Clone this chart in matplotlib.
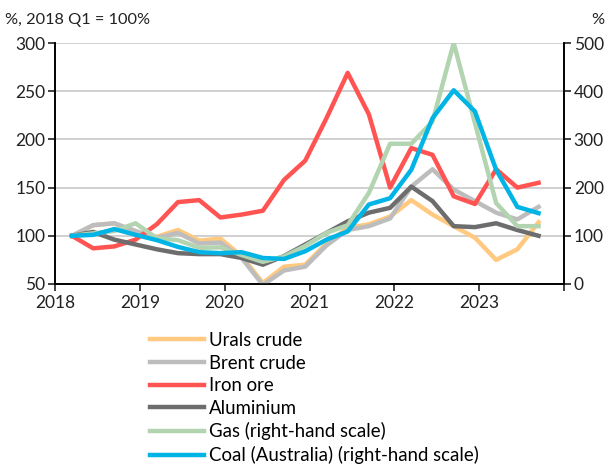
import numpy as np
import matplotlib.pyplot as plt

plt.rcParams['font.family'] = ['Lato', 'DejaVu Sans']

# quarterly observations, 2018 Q1 onwards (plotted mid-quarter-ish)
x = 2018.2 + 0.25 * np.arange(23)

urals = [100, 111, 113, 102, 99, 106, 95, 97, 79, 51, 68, 70,
         92, 108, 112, 120, 137, 122, 110, 98, 75, 86, 114]
brent = [100, 111, 113, 105, 98, 103, 92, 93, 77, 49, 64, 68,
         90, 106, 110, 118, 151, 169, 148, 136, 124, 117, 130]
iron_ore = [100, 87, 89, 96, 112, 135, 137, 119, 122, 126, 158, 178,
            222, 269, 226, 150, 191, 184, 141, 133, 169, 150, 155]
aluminium = [100, 104, 96, 91, 86, 82, 81, 81, 77, 70, 79, 91,
             103, 115, 124, 129, 151, 136, 110, 109, 113, 106, 100]
gas = [100, 105, 110, 126, 95, 91, 75, 76, 60, 46, 57, 79,
       106, 122, 189, 291, 291, 337, 500, 334, 168, 120, 120]
coal = [100, 102, 114, 102, 91, 77, 66, 64, 66, 54, 52, 68,
        92, 109, 165, 178, 237, 344, 402, 358, 237, 160, 147]

c_urals = '#FFC97F'
c_brent = '#BDBDBD'
c_iron = '#FF5452'
c_alu = '#6D6D6D'
c_gas = '#B3D4B0'
c_coal = '#00B4E6'
lw = 3.2

fig = plt.figure(figsize=(6.15, 4.66), dpi=100)
ax = fig.add_axes([55 / 615, 1 - 284 / 466, (564 - 55) / 615, (284 - 43) / 466])
ax2 = ax.twinx()

ax2.plot(x, gas, color=c_gas, lw=lw, label='Gas (right-hand scale)', zorder=2)
ax.plot(x, urals, color=c_urals, lw=lw, label='Urals crude', zorder=3)
ax.plot(x, brent, color=c_brent, lw=lw, label='Brent crude', zorder=3)
ax.plot(x, iron_ore, color=c_iron, lw=lw, label='Iron ore', zorder=3)
ax.plot(x, aluminium, color=c_alu, lw=lw, label='Aluminium', zorder=3)
ax2.plot(x, coal, color=c_coal, lw=lw, label='Coal (Australia) (right-hand scale)', zorder=4)

ax.set_zorder(ax2.get_zorder() - 1)
ax.patch.set_visible(False)
ax2.patch.set_visible(False)

ax.set_xlim(2018, 2024)
ax.set_ylim(50, 300)
ax2.set_ylim(0, 500)
ax.set_yticks([50, 100, 150, 200, 250, 300])
ax2.set_yticks([0, 100, 200, 300, 400, 500])
ax.set_xticks([2018, 2019, 2020, 2021, 2022, 2023, 2024])
ax.set_xticklabels(['2018', '2019', '2020', '2021', '2022', '2023', ''])

ax.grid(axis='y', color='#C8C8C8', lw=1.2)
ax.set_axisbelow(True)

for a in (ax, ax2):
    a.spines['top'].set_visible(False)
    a.tick_params(labelsize=12.5, colors='#222222', length=5, width=1.2)
    for s in ('left', 'right', 'bottom'):
        a.spines[s].set_linewidth(1.2)
ax.tick_params(axis='x', pad=3)
ax.tick_params(axis='y', pad=2)
ax2.tick_params(axis='y', pad=2)

fig.text(5 / 615, 1 - 20 / 466, '%, 2018 Q1 = 100%', fontsize=11.8, va='center', color='#222222')
fig.text(598 / 615, 1 - 20 / 466, '%', fontsize=11.8, va='center', ha='center', color='#222222')

h1, l1 = ax.get_legend_handles_labels()
h2, l2 = ax2.get_legend_handles_labels()
order = h1 + [h2[0], h2[1]]
labels = l1 + [l2[0], l2[1]]
fig.legend(order, labels, loc='upper left', bbox_to_anchor=(150 / 615, 1 - 332 / 466),
           frameon=False, fontsize=13.4, handlelength=2.9, handletextpad=0.25,
           labelspacing=0.3, borderaxespad=0, borderpad=0)

fig.savefig('out.png', dpi=100)
